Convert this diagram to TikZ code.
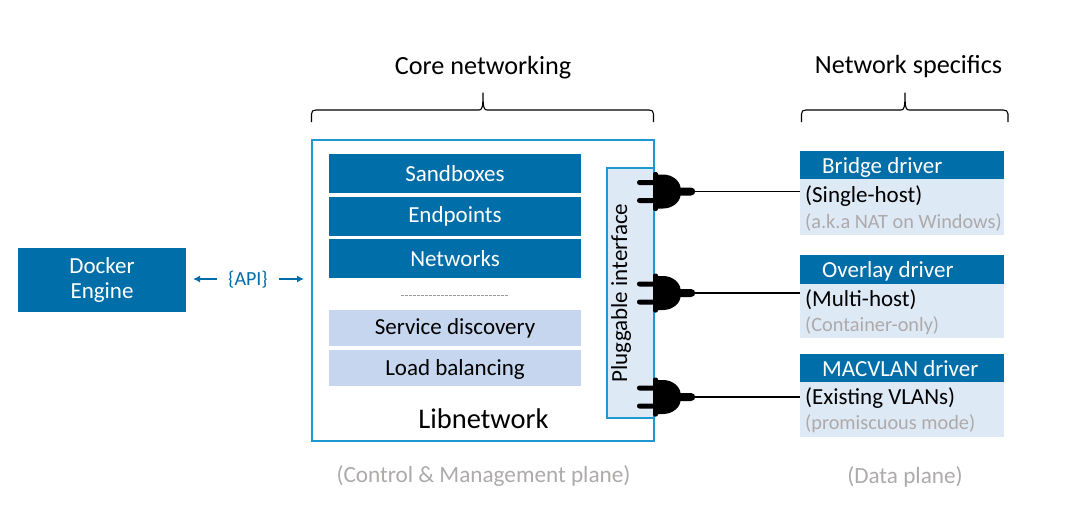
\documentclass[tikz,border=0pt]{standalone}
\usepackage{fontspec}
\usetikzlibrary{arrows.meta}
\setmainfont{Carlito}
\definecolor{dblue}{HTML}{006EA8}
\definecolor{lblue}{HTML}{DEE9F6}
\definecolor{mblue}{HTML}{C5D6EE}
\definecolor{frameb}{HTML}{1F97D0}
\definecolor{gtext}{HTML}{AEAAAA}
\newcommand{\fs}[1]{\fontsize{#1pt}{#1pt}\selectfont}
\tikzset{
  x=1pt,y=-1pt,
  solid box/.style={fill=dblue,inner sep=0pt},
  pale box/.style={fill=mblue,inner sep=0pt},
  box text/.style={inner sep=0pt,font=\fs{23}},
  drv head/.style={fill=dblue,inner sep=0pt,minimum width=204pt},
  drv head text/.style={inner sep=0pt,anchor=west,text=white,font=\fs{23}},
  drv body/.style={fill=lblue,inner sep=0pt,minimum width=204pt,minimum height=56pt},
  title/.style={inner sep=0pt,font=\fs{26.2}},
  note/.style={inner sep=0pt,text=gtext,font=\fs{23.2}},
  drv text/.style={inner sep=0pt,anchor=west,font=\fs{23}},
  drv sub/.style={inner sep=0pt,anchor=west,text=gtext,font=\fs{20.3}},
  brace/.style={draw=black,line width=1.1pt,line join=round},
  plug/.pic={
    \fill[black,rounded corners=2pt] (0,-19.5) rectangle (5,19.5);
    \fill[black] (2,-17) -- (10,-17) .. controls (20,-17) and (27,-10) .. (27.5,-4) -- (38,-4)
      .. controls (43.5,-4) and (43.5,4) .. (38,4) -- (27.5,4)
      .. controls (27,10) and (20,17) .. (10,17) -- (2,17) -- cycle;
    \fill[black,rounded corners=2.4pt] (-16,-11.5) rectangle (2,-6.5);
    \fill[black,rounded corners=2.4pt] (-16,6.5) rectangle (2,11.5);
  }
}
\begin{document}
\begin{tikzpicture}
\useasboundingbox (0,0) rectangle (1073,511);
\fill[white] (0,0) rectangle (1073,511);

\node[title] (core) at (483,67.5) {Core networking};
\node[title] (spec) at (908.5,67) {Network specifics};
\draw[brace] (311.5,122) -- (311.5,114) .. controls (311.5,111) and (313,110) .. (316,110) -- (479,110)
  .. controls (482,110) and (483,108) .. (483,93) .. controls (483,108) and (484,110) .. (487,110)
  -- (649,110) .. controls (652,110) and (653.5,111) .. (653.5,114) -- (653.5,122);
\draw[brace] (801.5,122) -- (801.5,114) .. controls (801.5,111) and (803,110) .. (806,110) -- (901,110)
  .. controls (904,110) and (905,108) .. (905,93) .. controls (905,108) and (906,110) .. (909,110)
  -- (1003,110) .. controls (1006,110) and (1008,111) .. (1008,114) -- (1008,122);

\node[solid box,text=white,font=\fs{23},align=center,minimum width=168pt,minimum height=64pt] (docker) at (102,279.5)
  {Docker\\[2pt]Engine};
\node[inner sep=0pt,text=dblue,font=\fs{20}] (api) at (248,280) {\{API\}};
\coordinate (apil) at (193,279);
\coordinate (apir) at (304,279);
\coordinate (a1) at (217,279);
\coordinate (a2) at (279,279);
\draw[dblue,line width=1.3pt,-{Latex[length=7pt,width=7pt]}] (a1) -- (apil);
\draw[dblue,line width=1.3pt,-{Latex[length=7pt,width=7pt]}] (a2) -- (apir);

\node[draw=frameb,line width=1.1pt,minimum width=342pt,minimum height=301pt,inner sep=0pt] (lib) at (483,290.5) {};
\node[solid box,minimum width=252pt,minimum height=39pt] (sand) at (455,173.5) {};
\node[box text,text=white] (sandt) at ([yshift=-0.5pt]sand) {Sandboxes};
\node[solid box,minimum width=252pt,minimum height=39pt] (endp) at (455,216.5) {};
\node[box text,text=white] (endt) at (endp) {Endpoints};
\node[solid box,minimum width=252pt,minimum height=39pt] (nets) at (455,258.5) {};
\node[box text,text=white] (nett) at (nets) {Networks};
\coordinate (dl) at (401,295.5);
\coordinate (dr) at (508,295.5);
\draw[gray!80,line width=0.6pt,dash pattern=on 3pt off 1pt] (dl) -- (dr);
\node[pale box,minimum width=252pt,minimum height=36pt] (serv) at (455,328) {};
\node[box text] (servt) at ([yshift=-0.5pt]serv) {Service discovery};
\node[pale box,minimum width=252pt,minimum height=36pt] (load) at (455,368) {};
\node[box text] (loadt) at ([yshift=-1pt]load) {Load balancing};
\node[inner sep=0pt,font=\fs{28.5}] (libt) at (483.5,418.5) {Libnetwork};

\node[draw=frameb,fill=lblue,line width=1.1pt,minimum width=47pt,minimum height=250pt,inner sep=0pt] (pi) at (630.5,293) {};
\node[inner sep=0pt,rotate=90,font=\fs{23}] (pit) at (621,293) {Pluggable interface};

\node[drv head,anchor=north west,minimum height=28pt] (bh) at (800,151) {};
\node[drv head text] (bht) at (822,167) {Bridge driver};
\node[drv body,anchor=north west] (bb) at (800,179) {};
\node[drv text] (bt) at (805,196) {(Single-host)};
\node[drv sub] (bs) at (805,222) {(a.k.a NAT on Windows)};

\node[drv head,anchor=north west,minimum height=29pt] (oh) at (800,255) {};
\node[drv head text] (oht) at (822,271) {Overlay driver};
\node[drv body,anchor=north west,minimum height=54pt] (ob) at (800,284) {};
\node[drv text] (ot) at (805,300) {(Multi-host)};
\node[drv sub] (os) at (805,326) {(Container-only)};

\node[drv head,anchor=north west,minimum height=28pt] (mh) at (800,354) {};
\node[drv head text] (mht) at (822,369) {MACVLAN driver};
\node[drv body,anchor=north west,minimum height=55pt] (mb) at (800,382) {};
\node[drv text] (mt) at (805,398) {(Existing VLANs)};
\node[drv sub] (ms) at (805,424) {(promiscuous mode)};

\coordinate (p1) at (653,191.5);
\coordinate (p2) at (653,293);
\coordinate (p3) at (653,397);
\path (p1) pic {plug} (p2) pic {plug} (p3) pic {plug};
\draw[black,line width=1.2pt] (p1) -- (bb.west |- p1);
\draw[black,line width=1.2pt] (p2) -- (ob.west |- p2);
\draw[black,line width=1.2pt] (p3) -- (mb.west |- p3);

\node[note] (cm) at (483.5,476.5) {(Control \& Management plane)};
\node[note] (dp) at (905,476.5) {(Data plane)};
\end{tikzpicture}
\end{document}
